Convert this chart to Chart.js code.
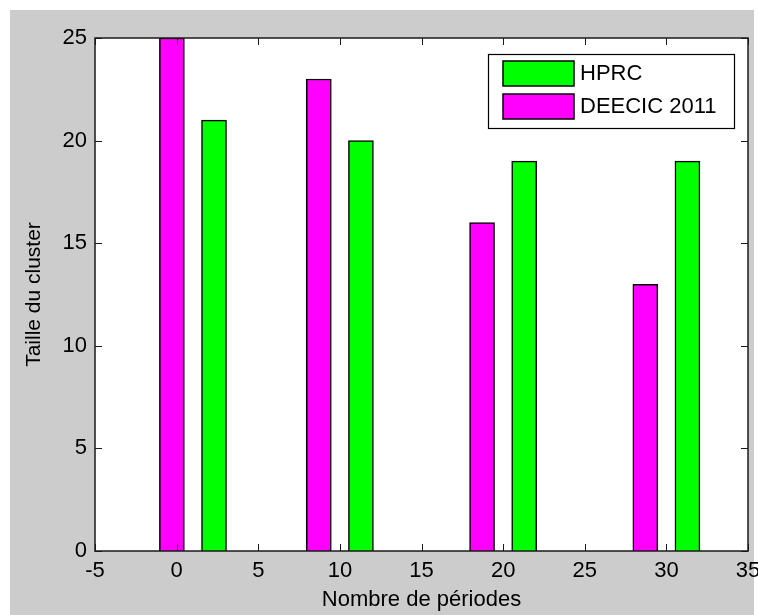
<!DOCTYPE html>
<html>
<head>
<meta charset="utf-8">
<script src="https://cdn.jsdelivr.net/npm/chart.js@4/dist/chart.umd.min.js"></script>
<style>
  html, body { margin: 0; padding: 0; background: #fff; }
  #wrap { width: 758px; height: 615px; }
</style>
</head>
<body>
<div id="wrap"><canvas id="chart" width="758" height="615"></canvas></div>
<script>
// --- DONNEES ---
const groupX = [1, 10, 20, 30];
const hprcValues = [21, 20, 19, 19];
const deecicValues = [25, 23, 16, 13];
const seriesLabels = ['HPRC', 'DEECIC 2011'];
const barOffset = 1.29; // demi-écart entre les 2 barres d'un groupe (unités x)
const xTicks = [-5, 0, 5, 10, 15, 20, 25, 30, 35];
const yTicks = [0, 5, 10, 15, 20, 25];

const FONT = 'Arial, "Liberation Sans", sans-serif';
const GREEN = '#00ff00';
const MAGENTA = '#ff00ff';

// fond style figure matlab
const bgPlugin = {
    id: 'bg',
    beforeDraw(chart) {
        const ctx = chart.ctx;
        ctx.save();
        ctx.fillStyle = '#ffffff';
        ctx.fillRect(0, 0, chart.width, chart.height);
        ctx.fillStyle = '#cccccc';
        ctx.fillRect(10, 10, chart.width - 14, chart.height - 10);
        const a = chart.chartArea;
        ctx.fillStyle = '#ffffff';
        ctx.fillRect(a.left, a.top, a.right - a.left, a.bottom - a.top);
        ctx.restore();
    }
};

// cadre, graduations internes et légende
const framePlugin = {
    id: 'frame',
    afterDatasetsDraw(chart) {
        const ctx = chart.ctx;
        const a = chart.chartArea;
        const xs = chart.scales.x;
        const ys = chart.scales.y;
        const tick = 7;
        ctx.save();
        ctx.strokeStyle = '#1a1a1a';
        ctx.lineWidth = 1;
        ctx.beginPath();
        xTicks.forEach(v => {
            const px = Math.round(xs.getPixelForValue(v)) + 0.5;
            ctx.moveTo(px, a.bottom); ctx.lineTo(px, a.bottom - tick);
            ctx.moveTo(px, a.top); ctx.lineTo(px, a.top + tick);
        });
        yTicks.forEach(v => {
            const py = Math.round(ys.getPixelForValue(v)) + 0.5;
            ctx.moveTo(a.left, py); ctx.lineTo(a.left + tick, py);
            ctx.moveTo(a.right, py); ctx.lineTo(a.right - tick, py);
        });
        ctx.stroke();
        ctx.lineWidth = 1.5;
        ctx.strokeRect(a.left, a.top, a.right - a.left, a.bottom - a.top);

        // légende
        const bw = 246, bh = 74;
        const bx = a.right - 14 - bw, by = a.top + 16;
        ctx.fillStyle = '#ffffff';
        ctx.fillRect(bx, by, bw, bh);
        ctx.lineWidth = 1.2;
        ctx.strokeStyle = '#000';
        ctx.strokeRect(bx + 0.5, by + 0.5, bw, bh);
        ctx.font = '22px ' + FONT;
        ctx.textBaseline = 'middle';
        ctx.textAlign = 'left';
        chart.data.datasets.forEach((ds, i) => {
            const sx = bx + 15, sy = by + 7 + i * 33;
            ctx.fillStyle = ds.backgroundColor;
            ctx.fillRect(sx, sy, 71, 25);
            ctx.lineWidth = 1.5;
            ctx.strokeRect(sx, sy, 71, 25);
            ctx.fillStyle = '#000';
            ctx.fillText(ds.label, sx + 77, sy + 13);
        });
        ctx.restore();
    }
};

const ctx = document.getElementById('chart').getContext('2d');
new Chart(ctx, {
    type: 'bar',
    data: {
        datasets: [
            {
                label: seriesLabels[0],
                data: groupX.map((g, i) => ({ x: g + barOffset, y: hprcValues[i] })),
                backgroundColor: GREEN,
                borderColor: '#000',
                borderWidth: 1.5
            },
            {
                label: seriesLabels[1],
                data: groupX.map((g, i) => ({ x: g - barOffset, y: deecicValues[i] })),
                backgroundColor: MAGENTA,
                borderColor: '#000',
                borderWidth: 1.5
            }
        ]
    },
    options: {
        responsive: false,
        animation: false,
        devicePixelRatio: 1,
        layout: { padding: { left: 0, top: 38, right: 10, bottom: 0 } },
        datasets: { bar: { grouped: false, barThickness: 25 } },
        plugins: {
            legend: { display: false },
            tooltip: { enabled: false }
        },
        scales: {
            x: {
                type: 'linear',
                offset: false,
                min: -5,
                max: 35,
                afterBuildTicks: s => { s.ticks = xTicks.map(v => ({ value: v })); },
                afterFit: s => { s.height = 64; s.paddingLeft = 0; s.paddingRight = 0; },
                grid: { display: false, drawTicks: false },
                border: { display: false },
                ticks: { color: '#000', font: { size: 22, family: FONT }, padding: 7, maxRotation: 0 },
                title: {
                    display: true,
                    text: 'Nombre de périodes',
                    color: '#000',
                    font: { size: 22, family: FONT },
                    padding: { top: 0, bottom: 2 }
                }
            },
            y: {
                min: 0,
                max: 25,
                afterBuildTicks: s => { s.ticks = yTicks.map(v => ({ value: v })); },
                afterFit: s => { s.width = 95; s.paddingTop = 0; s.paddingBottom = 0; },
                grid: { display: false, drawTicks: false },
                border: { display: false },
                ticks: { color: '#000', font: { size: 22, family: FONT }, padding: 8 },
                title: {
                    display: true,
                    text: 'Taille du cluster',
                    color: '#000',
                    font: { size: 21, family: FONT },
                    padding: { top: 22, bottom: 0 }
                }
            }
        }
    },
    plugins: [bgPlugin, framePlugin]
});
</script>
</body>
</html>
